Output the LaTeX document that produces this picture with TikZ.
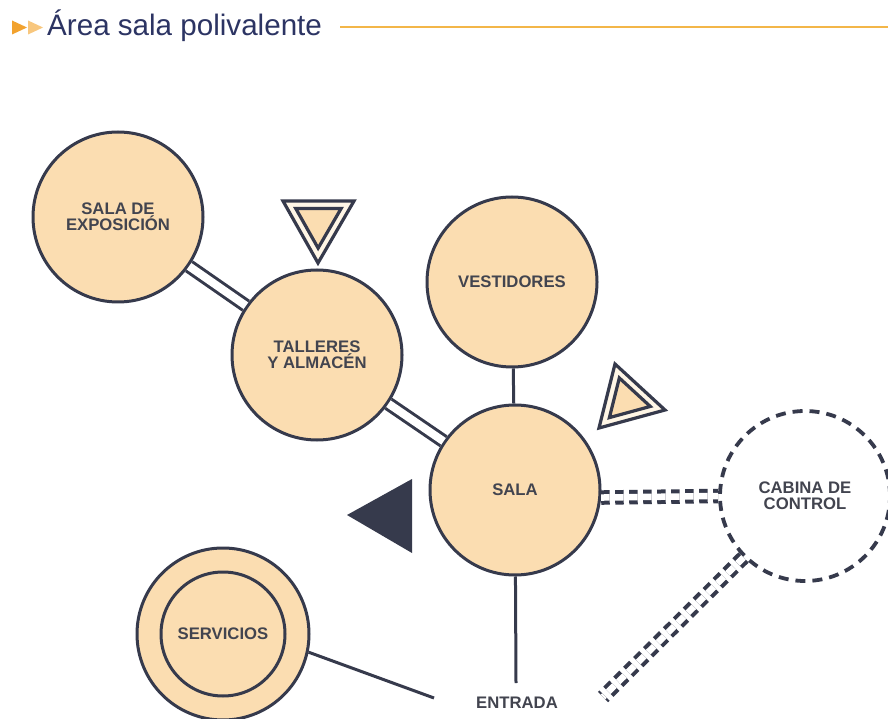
\documentclass[tikz,border=0pt]{standalone}
\usepackage{fontspec}
\setmainfont{Liberation Sans}
\usetikzlibrary{calc}
\definecolor{ink}{HTML}{363A4C}
\definecolor{txt}{HTML}{42444F}
\definecolor{beige}{HTML}{FBDDB1}
\definecolor{navy}{HTML}{2C3463}
\definecolor{orangeA}{HTML}{F2A22E}
\definecolor{orangeB}{HTML}{F8C77E}
\definecolor{rulecol}{HTML}{F3B648}
\definecolor{cream}{HTML}{FFF6E6}
\begin{document}
\begin{tikzpicture}[x=1pt,y=1pt,
  room/.style={circle, draw=ink, line width=3pt, fill=beige, minimum size=170pt, inner sep=0pt,
    align=center, text=txt, font=\fontsize{16.7}{16}\selectfont\bfseries},
  ctrl/.style={room, fill=white, dash pattern=on 10pt off 7pt, line width=3.8pt},
  link/.style={draw=ink, line width=3pt},
  dbl/.style={draw=ink, line width=3pt, double=white, double distance=8pt},
  dbldash/.style={draw=ink, line width=4pt, double=white, double distance=6.5pt, dash pattern=on 8.5pt off 5.5pt},
  plaintext/.style={text=txt, font=\fontsize{16.7}{16}\selectfont\bfseries, inner sep=0pt},
  tri/.style={draw=ink, line width=3.2pt, line join=miter}
]
\fill[white] (0,0) rectangle (888,718);
\useasboundingbox (0,0) rectangle (888,718);

% title
\fill[orangeA] (12,697.5) -- (27,690.5) -- (12,683.5) -- cycle;
\fill[orangeB] (28,697.5) -- (43,690.5) -- (28,683.5) -- cycle;
\node[anchor=base west, inner sep=0pt, text=navy, font=\fontsize{29.6}{30}\selectfont] (title) at (47,682) {Área sala polivalente};
\draw[rulecol, line width=1.3pt] (340,691) -- (888,691);

% rooms
\node[room] (expo) at (118,501) {SALA DE\\EXPOSICIÓN};
\node[room] (tall) at (317,363) {TALLERES\\Y ALMACÉN};
\node[room] (vest) at (512,436) {VESTIDORES};
\node[room] (sala) at (515,228) {SALA};
\node[ctrl] (cab) at (805,222) {CABINA DE\\CONTROL};
\node[room, minimum size=172pt] (serv) at (223,84) {SERVICIOS};
\draw[ink, line width=3pt] (serv.center) circle[radius=62pt];
\node[plaintext] (ent) at (517,15) {ENTRADA};
\coordinate (entN) at (516,35);
\coordinate (entW) at (434,20);
\coordinate (cabEnd) at (603,21);

% connectors
\draw[dbl] (expo) -- (tall);
\draw[dbl] (tall) -- (sala);
\draw[link] (vest) -- (sala);
\draw[link] (sala) -- (entN);
\draw[link] (serv.-12) -- (entW);
\draw[dbldash] (sala.-5) -- (cab.west);
\draw[dbldash] (cab.225) -- (cabEnd);

% triangle above talleres
\coordinate (t1a) at (283,517);
\coordinate (t1b) at (354,517);
\coordinate (t1c) at (318,455);
\coordinate (t1m) at ($1/3*(t1a)+1/3*(t1b)+1/3*(t1c)$);
\draw[tri, fill=cream] (t1a) -- (t1b) -- (t1c) -- cycle;
\draw[tri, fill=beige] ($(t1m)!0.64!(t1a)$) -- ($(t1m)!0.64!(t1b)$) -- ($(t1m)!0.64!(t1c)$) -- cycle;

% triangle right of sala
\coordinate (t2a) at (615,354);
\coordinate (t2b) at (665,308);
\coordinate (t2c) at (599,290);
\coordinate (t2m) at ($1/3*(t2a)+1/3*(t2b)+1/3*(t2c)$);
\draw[tri, fill=cream] (t2a) -- (t2b) -- (t2c) -- cycle;
\draw[tri, fill=beige] ($(t2m)!0.62!(t2a)$) -- ($(t2m)!0.62!(t2b)$) -- ($(t2m)!0.62!(t2c)$) -- cycle;

% dark triangle
\fill[ink] (347,203) -- (412,239) -- (412,165) -- cycle;
\end{tikzpicture}
\end{document}
